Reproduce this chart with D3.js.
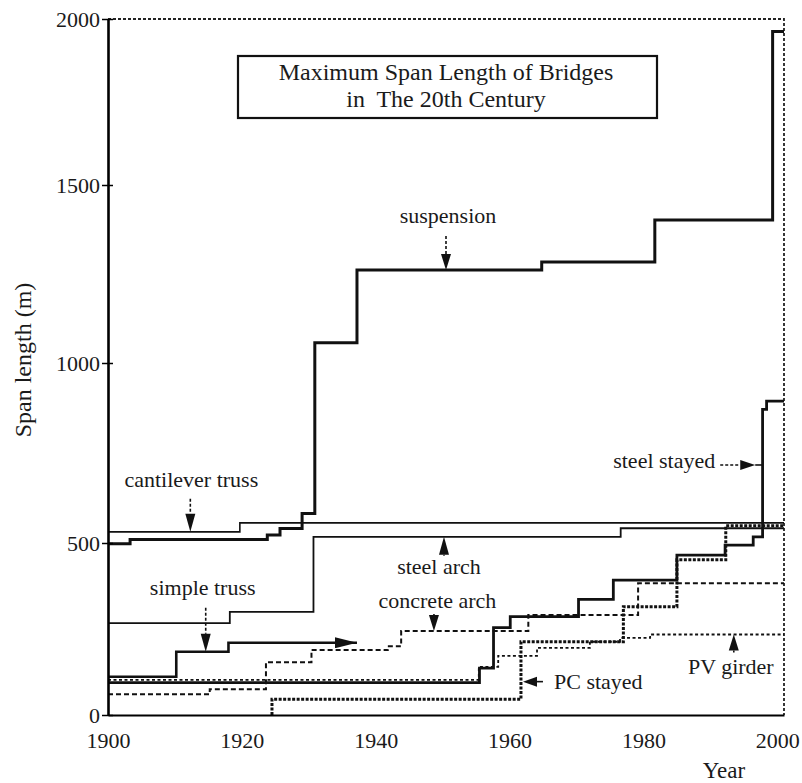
<!DOCTYPE html>
<html>
<head>
<meta charset="utf-8">
<title>Maximum Span Length of Bridges</title>
<script src="https://d3js.org/d3.v7.min.js"></script>
<style>
body { margin: 0; background: #fff; }
svg text { font-family: "Liberation Serif", "Times New Roman", serif; fill: #1a1a1a; }
</style>
</head>
<body>
<svg id="chart" width="802" height="783"></svg>
<script>
// span length (m) against year
// each series is a list of [year, span] steps
const yearTicks = [1900, 1920, 1940, 1960, 1980, 2000];
const spanTicks = [0, 500, 1000, 1500, 2000];

const suspension = [[1900, 498], [1903.3, 510], [1923.8, 522], [1925.7, 540], [1929.0, 582], [1930.9, 1057], [1937.2, 1261], [1964.8, 1284], [1981.7, 1402], [1999.3, 1962]];
const cantileverTruss = [[1900, 531], [1919.7, 556]];
const steelArch = [[1900, 267], [1918.2, 300], [1930.7, 517], [1976.6, 541]];
const simpleTruss = [[1900, 111], [1910.2, 184], [1918.0, 210], [1937.2, 210]];
const steelStayed = [[1900, 94], [1955.5, 136], [1957.6, 254], [1960.1, 286], [1970.3, 336], [1975.5, 392], [1985.0, 465], [1992.2, 494], [1996.4, 517], [1997.8, 871], [1998.4, 894]];
const concreteArch = [[1900, 60], [1915.2, 75], [1923.6, 153], [1930.4, 189], [1941.8, 200], [1943.8, 244], [1962.8, 291], [1979.2, 383]];
const pcStayed = [[1924.5, 0], [1924.5, 46], [1961.7, 213], [1977.0, 315], [1985.0, 451], [1992.3, 548]];
const pvGirder = [[1900, 102], [1955.4, 140], [1958.3, 172], [1964.1, 195], [1972.0, 213], [1976.5, 224], [1981.0, 234]];

const yearEnd = 2001;

var svg = d3.select('#chart');

// scales - the scan is a bit uneven so y goes through each tick
var x = d3.scaleLinear().domain([1900, yearEnd]).range([108, 784]);
var y = d3.scaleLinear().domain(spanTicks).range([715, 543, 363, 185, 19]);

// dotted frame on top and right
svg.append('path')
    .attr('d', 'M' + x(1900) + ',' + y(2000) + 'H' + x(yearEnd) + 'V' + y(0))
    .attr('fill', 'none')
    .attr('stroke', '#222')
    .attr('stroke-width', 1.8)
    .attr('stroke-dasharray', '3,2');

// title box
svg.append('rect')
    .attr('x', 238).attr('y', 56)
    .attr('width', 419).attr('height', 62)
    .attr('fill', 'none')
    .attr('stroke', '#111')
    .attr('stroke-width', 2.2);
svg.append('text')
    .attr('x', 446).attr('y', 80)
    .attr('text-anchor', 'middle')
    .style('font-size', '24px')
    .text('Maximum Span Length of Bridges');
svg.append('text')
    .attr('x', 446).attr('y', 107)
    .attr('text-anchor', 'middle')
    .style('font-size', '24px')
    .style('white-space', 'pre')
    .text('in  The 20th Century');

// step lines
var line = d3.line()
    .x(function(d) { return x(d[0]); })
    .y(function(d) { return y(d[1]); })
    .curve(d3.curveStepAfter);

var defs = svg.append('defs');
defs.append('marker')
    .attr('id', 'head')
    .attr('viewBox', '0 0 22 11')
    .attr('refX', 22).attr('refY', 5.5)
    .attr('markerWidth', 22).attr('markerHeight', 11)
    .attr('markerUnits', 'userSpaceOnUse')
    .attr('orient', 'auto')
    .append('path')
    .attr('d', 'M0,0L22,5.5L0,11Z')
    .attr('fill', '#111');

var series = [
    {data: pvGirder, width: 1.8, dash: '3,2.5'},
    {data: concreteArch, width: 2, dash: '5,3'},
    {data: pcStayed, width: 3, dash: '3,1.5'},
    {data: cantileverTruss, width: 1.6},
    {data: steelArch, width: 1.8},
    {data: simpleTruss, width: 2.6, open: true},
    {data: steelStayed, width: 2.8},
    {data: suspension, width: 3}
];

svg.append('g').selectAll('path')
    .data(series)
    .enter().append('path')
    .attr('d', function(s) {
        var pts = s.data;
        if (!s.open) pts = pts.concat([[yearEnd, pts[pts.length - 1][1]]]);
        return line(pts);
    })
    .attr('fill', 'none')
    .attr('stroke', '#111')
    .attr('stroke-width', function(s) { return s.width; })
    .attr('stroke-dasharray', function(s) { return s.dash || null; })
    .attr('marker-end', function(s) { return s.open ? 'url(#head)' : null; });

// axes
var yAxis = svg.append('g')
    .attr('transform', 'translate(' + x(1900) + ',0)')
    .call(d3.axisLeft(y).tickValues(spanTicks).tickFormat(d3.format('d'))
        .tickSize(6).tickSizeOuter(0).tickPadding(2));
yAxis.selectAll('.tick line').attr('x1', 5).attr('stroke-width', 1.5);
yAxis.select('.domain').attr('stroke-width', 2.6);
yAxis.selectAll('text').style('font-size', '22px').attr('fill', '#1a1a1a');

var xAxis = svg.append('g')
    .attr('transform', 'translate(0,' + y(0) + ')')
    .call(d3.axisBottom(x).tickValues(yearTicks).tickFormat(d3.format('d'))
        .tickSize(0).tickSizeOuter(0).tickPadding(17));
xAxis.select('.domain').attr('stroke-width', 2.2);
xAxis.selectAll('text').style('font-size', '22px').attr('fill', '#1a1a1a');

svg.append('text')
    .attr('transform', 'translate(31,360)rotate(-90)')
    .attr('text-anchor', 'middle')
    .style('font-size', '24px')
    .text('Span length (m)');
svg.append('text')
    .attr('x', 724).attr('y', 778)
    .attr('text-anchor', 'middle')
    .style('font-size', '23px')
    .text('Year');

// labels with arrows; "at" is the tip in data units, the rest are pixel offsets
var notes = [
    {label: 'suspension', at: [1950.5, 1261], from: [0, -34], head: 16, dash: '3,2', text: [2, -47]},
    {label: 'cantilever truss', at: [1912.3, 531], from: [0, -33], head: 18, dash: '3,2', text: [1, -45]},
    {label: 'simple truss', at: [1914.6, 184], from: [0, -44], head: 18, dash: '3,2', text: [-3, -57]},
    {label: 'steel arch', at: [1950.2, 517.5], from: [0, 19], head: 18, text: [-5, 37]},
    {label: 'concrete arch', at: [1948.7, 244], from: [0, -17], head: 16, text: [3.5, -23]},
    {label: 'PC stayed', at: [1962.0, 97], from: [20, 0], head: 14, text: [31, 7], anchor: 'start'},
    {label: 'PV girder', at: [1993.5, 234], from: [0, 18], head: 16, text: [-3, 39]},
    {label: 'steel stayed', at: [1996.7, 716.7], from: [-35, 0], head: 15, dash: '3,2', text: [-40, 3], anchor: 'end', reach: 1997.8}
];

function arrow(g, tx, ty, fx, fy, head, w, dash) {
    var dx = tx - fx, dy = ty - fy, len = Math.hypot(dx, dy);
    var ux = dx / len, uy = dy / len;
    var bx = tx - ux * head, by = ty - uy * head;
    if (len > head) {
        g.append('line')
            .attr('x1', fx).attr('y1', fy).attr('x2', bx).attr('y2', by)
            .attr('stroke', '#111').attr('stroke-width', 1.6)
            .attr('stroke-dasharray', dash || null);
    }
    g.append('path')
        .attr('d', 'M' + tx + ',' + ty +
            'L' + (bx - uy * w / 2) + ',' + (by + ux * w / 2) +
            'L' + (bx + uy * w / 2) + ',' + (by - ux * w / 2) + 'Z')
        .attr('fill', '#111');
}

var noteG = svg.append('g');
notes.forEach(function(n) {
    var tx = x(n.at[0]), ty = y(n.at[1]);
    arrow(noteG, tx, ty, tx + n.from[0], ty + n.from[1], n.head, 10, n.dash);
    if (n.reach) {
        noteG.append('line')
            .attr('x1', tx).attr('y1', ty).attr('x2', x(n.reach)).attr('y2', ty)
            .attr('stroke', '#111').attr('stroke-width', 1.6);
    }
    noteG.append('text')
        .attr('x', tx + n.text[0]).attr('y', ty + n.text[1])
        .attr('text-anchor', n.anchor || 'middle')
        .style('font-size', '22px')
        .text(n.label);
});
</script>
</body>
</html>
